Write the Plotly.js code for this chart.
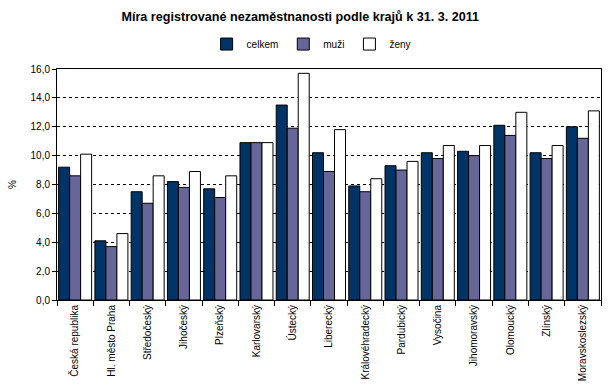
<!DOCTYPE html>
<html>
<head>
<meta charset="utf-8">
<script src="https://cdn.plot.ly/plotly-3.0.1.min.js"></script>
<style>html,body{margin:0;padding:0;background:#fff;}#chart{width:616px;height:392px;}</style>
</head>
<body>
<div id="chart"></div>
<script>
const categories = ["Česká republika","Hl. město Praha","Středočeský","Jihočeský","Plzeňský","Karlovarský","Ústecký","Liberecký","Královéhradecký","Pardubický","Vysočina","Jihomoravský","Olomoucký","Zlínský","Moravskoslezský"];
const celkem = [9.2, 4.1, 7.5, 8.2, 7.7, 10.9, 13.5, 10.2, 7.9, 9.3, 10.2, 10.3, 12.1, 10.2, 12.0];
const muzi   = [8.6, 3.7, 6.7, 7.8, 7.1, 10.9, 11.9, 8.9, 7.5, 9.0, 9.8, 10.0, 11.4, 9.8, 11.2];
const zeny   = [10.1, 4.6, 8.6, 8.9, 8.6, 10.9, 15.7, 11.8, 8.4, 9.6, 10.7, 10.7, 13.0, 10.7, 13.1];
const seriesNames = ["celkem","muži","ženy"];
const yTicks = [0,2,4,6,8,10,12,14,16];

const colors = ["#003366","#666699","#ffffff"];
const data = [celkem, muzi, zeny].map((vals, i) => ({
  type: "bar",
  name: seriesNames[i],
  x: categories,
  y: vals,
  marker: {color: colors[i], line: {color: "#000000", width: 1}}
}));

const layout = {
  width: 616, height: 392,
  margin: {l: 57, r: 15, t: 69, b: 92},
  paper_bgcolor: "#ffffff", plot_bgcolor: "#ffffff",
  separators: ", ",
  font: {family: "Liberation Sans, Arial, sans-serif", size: 10, color: "#000"},
  title: {text: "Míra registrované nezaměstnanosti podle krajů k 31. 3. 2011",
          font: {family: "Liberation Sans, Arial, sans-serif", size: 12.6, color: "#000", weight: "bold"},
          x: 0.4875, xref: "container", xanchor: "center", y: 0.957, yref: "container", yanchor: "middle"},
  barmode: "group", bargap: 0.09, bargroupgap: 0,
  showlegend: true,
  legend: {orientation: "h", x: 0.275, xanchor: "left", y: 1.108, yanchor: "middle",
           font: {size: 10}, traceorder: "normal", bgcolor: "rgba(0,0,0,0)"},
  xaxis: {type: "category", showline: true, linecolor: "#000", linewidth: 1, mirror: true,
          ticks: "outside", tickson: "boundaries", ticklen: 5, tickcolor: "#000",
          tickangle: -90, showgrid: false, fixedrange: true},
  yaxis: {range: [0, 16], tickvals: yTicks, tickformat: ".1f", showline: true, linecolor: "#000",
          linewidth: 1, mirror: true, ticks: "outside", ticklen: 4, tickcolor: "#000",
          showgrid: true, gridcolor: "#000", gridwidth: 1, griddash: "3px,3px", zeroline: false,
          title: {text: "%", font: {size: 10}, standoff: 12}, fixedrange: true}
};
Plotly.newPlot("chart", data, layout, {displayModeBar: false, staticPlot: true});
</script>
</body>
</html>
